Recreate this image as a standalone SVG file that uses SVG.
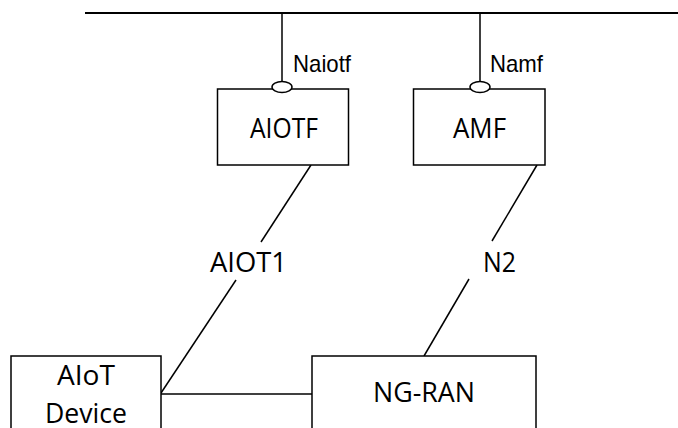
<svg xmlns="http://www.w3.org/2000/svg" width="678" height="428" viewBox="0 0 678 428">
<style>
.box{fill:#fff;stroke:#000;stroke-width:1.5}
.ln{stroke:#000;stroke-width:1.5;fill:none}
.sap{fill:#fff;stroke:#000;stroke-width:1.5}
.t{font-family:"Open Sans","Noto Sans",sans-serif;font-size:27px;fill:#000}
.s{font-family:"Liberation Sans",Arial,sans-serif;font-size:24px;fill:#000}
</style>
<rect width="678" height="428" fill="#fff"/>
<g id="connectors">
<line class="ln" x1="85" y1="13" x2="678" y2="13" style="stroke-width:2.2"/>
<line class="ln" x1="282" y1="13" x2="282" y2="82"/>
<line class="ln" x1="480" y1="13" x2="480" y2="82"/>
<line class="ln" x1="311" y1="165" x2="261" y2="242"/>
<line class="ln" x1="236" y1="280" x2="161" y2="393"/>
<line class="ln" x1="537" y1="165" x2="492" y2="241"/>
<line class="ln" x1="469" y1="279" x2="424" y2="356"/>
<line class="ln" x1="161" y1="394" x2="312" y2="394"/>
<text class="s" x="293" y="72" textLength="58" lengthAdjust="spacingAndGlyphs">Naiotf</text>
<text class="s" x="490" y="72" textLength="53" lengthAdjust="spacingAndGlyphs">Namf</text>
<text class="t" x="210" y="272" textLength="77" lengthAdjust="spacingAndGlyphs">AIOT1</text>
<text class="t" x="483" y="272" textLength="33" lengthAdjust="spacingAndGlyphs">N2</text>
</g>
<g id="aiotf">
<rect class="box" x="217.5" y="89" width="131" height="76"/>
<ellipse class="sap" cx="282" cy="87" rx="10" ry="5.5"/>
<text class="t" x="250" y="138" textLength="68" lengthAdjust="spacingAndGlyphs">AIOTF</text>
</g>
<g id="amf">
<rect class="box" x="413.5" y="89" width="131.5" height="76"/>
<ellipse class="sap" cx="480" cy="87" rx="10" ry="5.5"/>
<text class="t" x="453" y="138" textLength="53" lengthAdjust="spacingAndGlyphs">AMF</text>
</g>
<g id="aiot-device">
<rect class="box" x="11" y="356" width="150" height="80"/>
<text class="t" x="57" y="385" textLength="58" lengthAdjust="spacingAndGlyphs">AIoT</text>
<text class="t" x="45" y="423" textLength="82" lengthAdjust="spacingAndGlyphs">Device</text>
</g>
<g id="ng-ran">
<rect class="box" x="312" y="356" width="224" height="80"/>
<text class="t" x="373" y="402" textLength="102" lengthAdjust="spacingAndGlyphs">NG-RAN</text>
</g>
</svg>
